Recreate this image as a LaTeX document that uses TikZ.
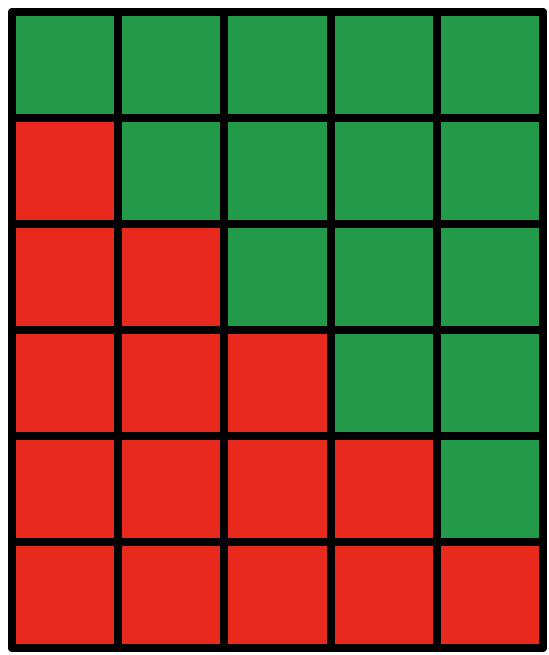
\documentclass[tikz,border=0pt]{standalone}
\usetikzlibrary{positioning}

\definecolor{cellgreen}{RGB}{34,154,74}
\definecolor{cellred}{RGB}{232,42,30}
\tikzset{
  gridline/.style={line width=0.16cm,black,line cap=round,line join=round},
}

\begin{document}
\begin{tikzpicture}[x=0.02cm,y=-0.02cm]
  \useasboundingbox (0,0) rectangle (548,655);
  % cells: red below the staircase, green above
  \foreach \r in {0,...,5}
    \foreach \c in {0,...,4} {
      \ifnum\c<\r \def\cellcol{cellred}\else \def\cellcol{cellgreen}\fi
      \fill[\cellcol] (12+106.2*\c,12+106*\r) rectangle ++(106.2,106);
    }
  % grid lines
  \foreach \c in {0,...,5}
    \draw[gridline] (12+106.2*\c,12) -- (12+106.2*\c,648);
  \foreach \r in {0,...,6}
    \draw[gridline] (12,12+106*\r) -- (543,12+106*\r);
\end{tikzpicture}
\end{document}
